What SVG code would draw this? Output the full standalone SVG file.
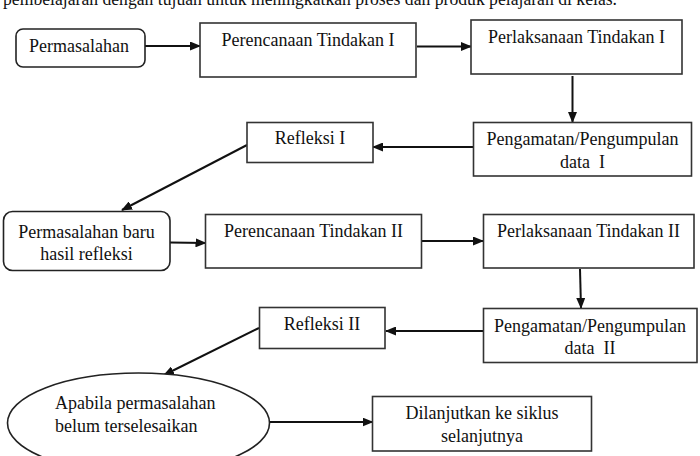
<svg xmlns="http://www.w3.org/2000/svg" width="700" height="456" viewBox="0 0 700 456">
<style>
text{font-family:"Liberation Serif","Times New Roman",serif;font-size:18px;fill:#111}
.c{text-anchor:middle}
.box{fill:#fff;stroke:#333;stroke-width:1.6}
.rbox{fill:#fff;stroke:#222;stroke-width:1.6}
.ln{stroke:#111;stroke-width:2;fill:none;marker-end:url(#ah)}
</style>
<defs>
<marker id="ah" markerUnits="userSpaceOnUse" markerWidth="11" markerHeight="9" refX="10" refY="4.5" orient="auto">
<path d="M0,0 L11,4.5 L0,9 z" fill="#111"/>
</marker>
</defs>
<rect width="700" height="456" fill="#fff"/>
<text x="3" y="5" textLength="614" lengthAdjust="spacingAndGlyphs">pembelajaran dengan tujuan untuk meningkatkan proses dan produk pelajaran di kelas.</text>
<g id="connectors">
<line class="ln" x1="145" y1="46" x2="200" y2="46"/>
<line class="ln" x1="417" y1="46.5" x2="471" y2="46.5"/>
<line class="ln" x1="572.5" y1="76" x2="572.5" y2="122"/>
<line class="ln" x1="473" y1="147" x2="373" y2="147"/>
<line class="ln" x1="247" y1="145" x2="122" y2="210"/>
<line class="ln" x1="170" y1="242.5" x2="205.5" y2="243"/>
<line class="ln" x1="422" y1="241" x2="483" y2="241"/>
<line class="ln" x1="580" y1="269" x2="581" y2="308"/>
<line class="ln" x1="483" y1="331" x2="386" y2="331"/>
<line class="ln" x1="259" y1="328" x2="164" y2="375"/>
<line class="ln" x1="269" y1="422" x2="372.5" y2="422"/>
</g>
<g id="n1"><rect class="rbox" x="16" y="29" width="129" height="38" rx="7"/><text class="c" x="79" y="52">Permasalahan</text></g>
<g id="n2"><rect class="box" x="200" y="23" width="216" height="54"/><text class="c" x="308" y="46">Perencanaan Tindakan I</text></g>
<g id="n3"><rect class="box" x="471" y="20" width="211" height="54"/><text class="c" x="576.5" y="43">Perlaksanaan Tindakan I</text></g>
<g id="n4"><rect class="box" x="473.5" y="122.5" width="218" height="53.5"/><text class="c" x="582.5" y="145">Pengamatan/Pengumpulan</text><text class="c" x="582.5" y="168">data&#160; I</text></g>
<g id="n5"><rect class="box" x="247" y="122.5" width="126" height="40"/><text class="c" x="310" y="144">Refleksi I</text></g>
<g id="n6"><rect class="rbox" x="3.5" y="211.5" width="166.5" height="59" rx="9"/><text class="c" x="86.5" y="237.5">Permasalahan baru</text><text class="c" x="86.5" y="260">hasil refleksi</text></g>
<g id="n7"><rect class="box" x="205.5" y="214.5" width="216" height="53.5"/><text class="c" x="313.5" y="237">Perencanaan Tindakan II</text></g>
<g id="n8"><rect class="box" x="483.5" y="214.5" width="210.5" height="53.5"/><text class="c" x="588.5" y="237">Perlaksanaan Tindakan II</text></g>
<g id="n9"><rect class="box" x="483.5" y="308.5" width="213.5" height="54"/><text class="c" x="590" y="331.5">Pengamatan/Pengumpulan</text><text class="c" x="590" y="354">data&#160; II</text></g>
<g id="n10"><rect class="box" x="259.5" y="307.5" width="125.5" height="41"/><text class="c" x="322" y="330">Refleksi II</text></g>
<g id="n11"><ellipse cx="138.5" cy="423" rx="131" ry="50" fill="#fff" stroke="#222" stroke-width="1.6"/><text x="55" y="409">Apabila permasalahan</text><text x="55" y="431.5">belum terselesaikan</text></g>
<g id="n12"><rect class="box" x="372.5" y="396.5" width="219" height="54.5"/><text class="c" x="482" y="419">Dilanjutkan ke siklus</text><text class="c" x="482" y="441.5">selanjutnya</text></g>
</svg>
